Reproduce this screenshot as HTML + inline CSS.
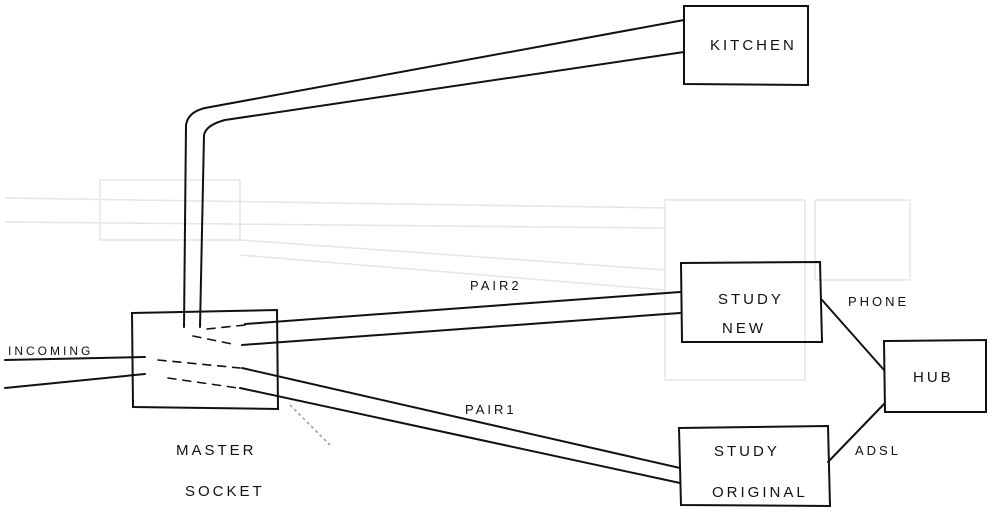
<!DOCTYPE html>
<html><head><style>
html,body{margin:0;padding:0;background:#fff;}
svg{display:block;}
text{font-family:"Liberation Sans",sans-serif;font-size:15px;fill:#111;letter-spacing:3px;}
</style></head><body>
<svg width="999" height="518" viewBox="0 0 999 518" xmlns="http://www.w3.org/2000/svg">
<!-- faint background -->
<g stroke="#e6e6e6" stroke-width="1.5" fill="none">
<rect x="100" y="180" width="140" height="60"/>
<rect x="665" y="200" width="140" height="180"/>
<rect x="815" y="200" width="95" height="80"/>
<line x1="5" y1="198" x2="665" y2="208"/>
<line x1="5" y1="222" x2="665" y2="228"/>
<line x1="240" y1="240" x2="665" y2="270"/>
<line x1="240" y1="255" x2="665" y2="290"/>
</g>
<g stroke="#111" stroke-width="2" fill="none" stroke-linecap="round">
<!-- boxes -->
<path d="M684,6 L808,6 L808,85 L684,84 Z"/>
<path d="M132,313 L277,310 L278,409 L133,407 Z"/>
<path d="M681,263 L820,262 L822,342 L682,342 Z"/>
<path d="M679,428 L828,426 L830,506 L681,505 Z"/>
<path d="M884,341 L986,340 L986,412 L885,412 Z"/>
<!-- kitchen wires -->
<path d="M184,327 L186,125 Q188,112 205,108 L684,20"/>
<path d="M200,327 L204,135 Q206,125 225,120 L684,52"/>
<!-- incoming -->
<path d="M5,360 L145,357"/>
<path d="M5,388 L145,374"/>
<!-- dashed internals -->
<g stroke-dasharray="8,7" stroke-width="1.6">
<path d="M207,329 L245,325"/>
<path d="M193,336 L232,344"/>
<path d="M158,360 L240,368"/>
<path d="M168,378 L238,388"/>
</g>
<!-- pairs -->
<path d="M245,324 L680,292"/>
<path d="M242,345 L680,313"/>
<path d="M242,368 L680,468"/>
<path d="M240,388 L680,483"/>
<!-- hub links -->
<path d="M822,300 L884,370"/>
<path d="M828,462 L884,404"/>
</g>
<path d="M290,405 L330,445" stroke="#999" stroke-width="1.5" stroke-dasharray="3,3"/>
<text x="710" y="50">KITCHEN</text>
<text x="718" y="304">STUDY</text>
<text x="722" y="333">NEW</text>
<text x="714" y="456">STUDY</text>
<text x="712" y="497">ORIGINAL</text>
<text x="913" y="382">HUB</text>
<text x="8" y="355" style="font-size:12px">INCOMING</text>
<text x="176" y="455">MASTER</text>
<text x="185" y="496">SOCKET</text>
<text x="470" y="290" style="font-size:13px">PAIR2</text>
<text x="465" y="414" style="font-size:13px">PAIR1</text>
<text x="848" y="306" style="font-size:13px">PHONE</text>
<text x="855" y="455" style="font-size:13px">ADSL</text>
</svg>
</body></html>
